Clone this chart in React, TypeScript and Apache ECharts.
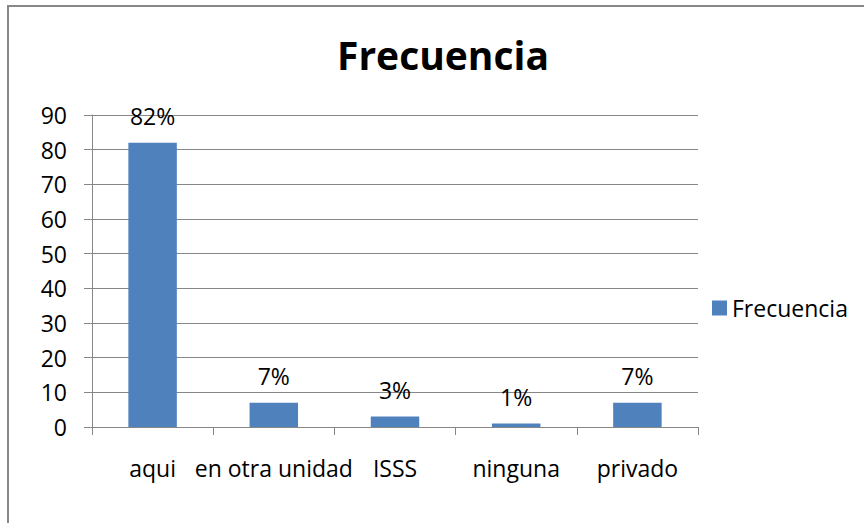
import React, { useEffect, useRef } from "react";
import * as echarts from "echarts";

const categories = ["aqui", "en otra unidad", "ISSS", "ninguna", "privado"];
const values = [82, 7, 3, 1, 7];
const seriesName = "Frecuencia";
const titleText = "Frecuencia";
const yMin = 0;
const yMax = 90;
const yStep = 10;

const FONT = "'Open Sans', 'Noto Sans', sans-serif";
const GRAY = "#878787";

export default function App() {
  const ref = useRef<HTMLDivElement>(null);
  useEffect(() => {
    if (!ref.current) return;
    const chart = echarts.init(ref.current, undefined, { renderer: "svg" });
    chart.setOption({
      animation: false,
      backgroundColor: "#ffffff",
      title: {
        text: titleText,
        left: 443,
        textAlign: "center",
        top: 35,
        padding: 0,
        textStyle: { fontFamily: FONT, fontSize: 39, fontWeight: "bold", color: "#000" },
      },
      legend: {
        data: [seriesName],
        left: 712,
        top: 296,
        padding: 0,
        itemWidth: 15,
        itemHeight: 15,
        textStyle: { fontFamily: FONT, fontSize: 23, lineHeight: 24, color: "#000" },
        icon: "rect",
      },
      grid: { left: 92, right: 166, top: 115, bottom: 96, containLabel: false },
      xAxis: {
        type: "category",
        data: categories,
        boundaryGap: true,
        axisLine: { lineStyle: { color: GRAY, width: 1 } },
        axisTick: { show: true, length: 8, alignWithLabel: false, lineStyle: { color: GRAY } },
        axisLabel: { margin: 29, fontFamily: FONT, fontSize: 23, color: "#000", interval: 0 },
      },
      yAxis: {
        type: "value",
        min: yMin,
        max: yMax,
        interval: yStep,
        axisLine: { show: true, lineStyle: { color: GRAY, width: 1 } },
        axisTick: { show: true, length: 8, lineStyle: { color: GRAY } },
        axisLabel: { margin: 25, fontFamily: FONT, fontSize: 23, color: "#000" },
        splitLine: { show: true, lineStyle: { color: GRAY, width: 1 } },
      },
      series: [
        {
          name: seriesName,
          type: "bar",
          data: values,
          barWidth: "40%",
          itemStyle: { color: "#4F81BD" },
          label: {
            show: true,
            position: "top",
            distance: 15,
            formatter: (p: any) => `${p.value}%`,
            fontFamily: FONT,
            fontSize: 23,
            color: "#000",
          },
        },
      ],
      graphic: [
        {
          type: "rect",
          shape: { x: 8, y: 6, width: 900, height: 600 },
          style: { fill: "none", stroke: GRAY, lineWidth: 2 },
          silent: true,
          z: -1,
        },
      ],
    });
    return () => chart.dispose();
  }, []);
  return (
    <div
      ref={ref}
      style={{ position: "absolute", left: 0, top: 0, width: 864, height: 523 }}
    />
  );
}
